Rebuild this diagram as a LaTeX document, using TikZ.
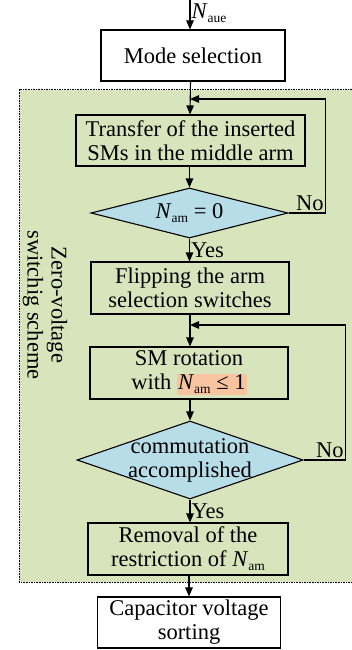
\documentclass[tikz,border=0pt]{standalone}
\usepackage{fontspec}
\setmainfont{Liberation Serif}
\usetikzlibrary{shapes.geometric,arrows.meta}
\definecolor{Scheme}{RGB}{216,228,188}
\definecolor{Decide}{RGB}{183,221,232}
\definecolor{Limit}{RGB}{248,196,160}
% upright subscript after an italic N
\newcommand{\Nsub}[1]{\textit{N}\raisebox{-0.4ex}{\fontsize{13.5}{13.5}\selectfont #1}}

\tikzset{
    flow/.style={line width=1.1pt, -{Triangle[length=9pt,width=7.5pt]}},
    stepbox/.style={draw, line width=1.1pt, align=center, inner sep=0pt},
    decision/.style={diamond, draw, line width=1.1pt, fill=Decide, inner sep=0pt},
    zone/.style={line width=1pt, dash pattern=on 1.6pt off 1pt}
}

\begin{document}
\begin{tikzpicture}[x=1pt, y=-1pt, font=\fontsize{22.5}{24}\selectfont]
        \useasboundingbox (0,0) rectangle (352,650);

        % Shaded area of the zero-voltage switching scheme
        \fill[Scheme] (19,90) rectangle (352,582);
        \draw[zone] (352,90) -- (19,90) -- (19,582) -- (352,582);
        \node[rotate=-90, align=center] (zvs) at (45,305) {Zero-voltage\\switchig scheme};

        % Steps of the flow chart
        \node[stepbox, fill=white, minimum width=184pt, minimum height=51pt] (mode) at (193,55.5) {Mode selection};
        \node[stepbox, minimum width=229pt, minimum height=51pt] (transfer) at (190.5,140.5) {Transfer of the inserted\\SMs in the middle arm};
        \node[decision, minimum width=197pt, minimum height=50pt] (chk1) at (189.5,213) {};
        \node (chk1txt) at (chk1) {\Nsub{am} = 0};
        \node[stepbox, minimum width=198pt, minimum height=52pt] (flip) at (190,288) {Flipping the arm\\selection switches};
        \node[stepbox, minimum width=198pt, minimum height=52pt] (rot) at (189,373) {SM rotation\\with {\fboxsep=1pt\colorbox{Limit}{\Nsub{am} ≤ 1}}};
        \node[decision, minimum width=226pt, minimum height=78pt] (chk2) at (190,460) {};
        \node[align=center] (chk2txt) at (chk2) {commutation\\accomplished};
        \node[stepbox, minimum width=200pt, minimum height=52pt] (remove) at (188,549) {Removal of the\\restriction of \Nsub{am}};
        \node[stepbox, fill=white, minimum width=183pt, minimum height=51pt] (sort) at (189,622.5) {Capacitor voltage\\sorting};

        % Points where the loops come back in
        \coordinate (top) at (190,0);
        \coordinate (join1) at (190,99);
        \coordinate (join2) at (190,325);

        % Main line
        \draw[flow] (top) -- (top |- mode.north) node[pos=0.45, anchor=west, inner sep=1pt] (naue) {\Nsub{aue}};
        \draw[flow] (mode.south -| transfer.north) -- (transfer.north -| join1);
        \draw[flow] (transfer.south -| chk1.north) -- (chk1.north);
        \draw[flow] (chk1.south) -- (flip.north -| chk1.south) node[midway, anchor=west, inner sep=1pt] (yes1) {Yes};
        \draw[flow] (flip.south -| join2) -- (rot.north -| join2);
        \draw[flow] (rot.south -| chk2.north) -- (chk2.north);
        \draw[flow] (chk2.south) -- (remove.north -| chk2.south) node[midway, anchor=west, inner sep=1pt] (yes2) {Yes};
        \draw[flow] (remove.south -| sort.north) -- (sort.north);

        % Loops back when the condition fails
        \draw[flow] (chk1.east) -- ++(37,0) node[anchor=south east, inner sep=1.5pt] (no1) {No} |- (join1);
        \draw[flow] (chk2.east) -- ++(42,0) node[anchor=south east, inner sep=1.5pt] (no2) {No} |- (join2);
    \end{tikzpicture}
\end{document}
